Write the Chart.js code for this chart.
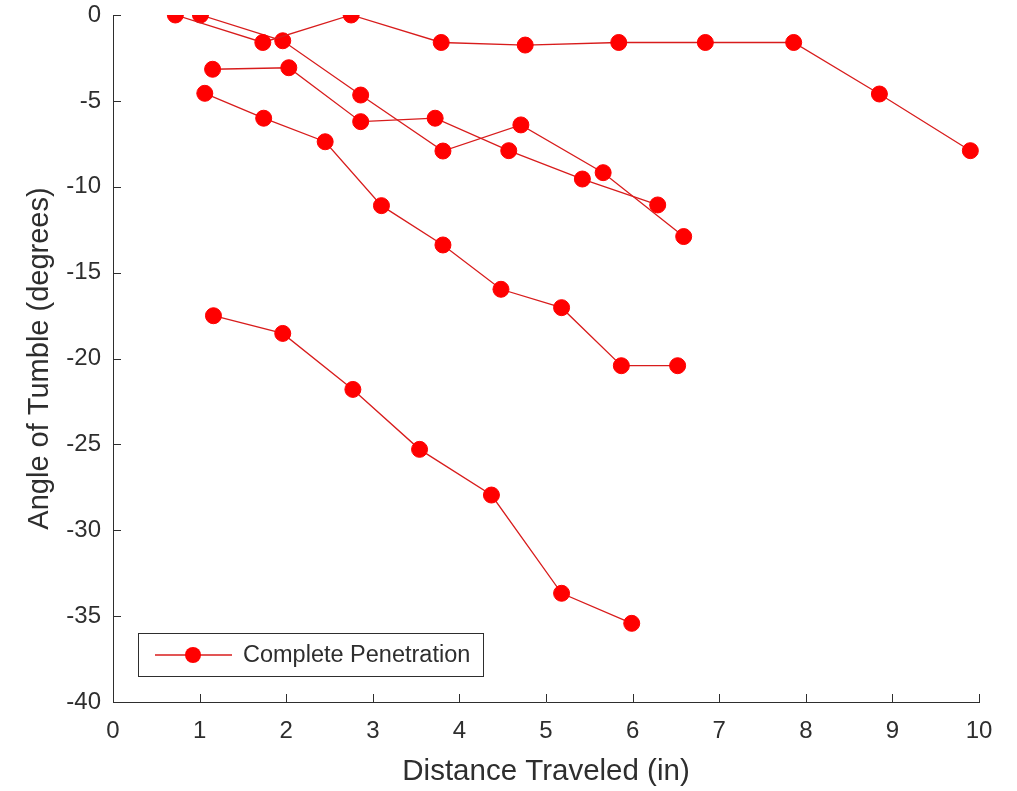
<!DOCTYPE html>
<html><head><meta charset="utf-8">
<script src="https://cdn.jsdelivr.net/npm/chart.js@4.4.1/dist/chart.umd.min.js"></script>
<style>html,body{margin:0;padding:0;background:#fff;}canvas{display:block;}</style>
</head><body>
<canvas id="c" width="1017" height="791"></canvas>
<script>
const xTickValues = [0,1,2,3,4,5,6,7,8,9,10];
const yTickValues = [0,-5,-10,-15,-20,-25,-30,-35,-40];
const legendLabel = 'Complete Penetration';
const xTitle = 'Distance Traveled (in)';
const yTitle = 'Angle of Tumble (degrees)';

const run1X = [0.72,1.73,2.75,3.79,4.76,5.84,6.84,7.86,8.85,9.90];
const run1Y = [0,-1.6,0,-1.6,-1.75,-1.6,-1.6,-1.6,-4.6,-7.9];
const run2X = [1.01,1.96,2.86,3.81,4.71,5.66,6.59];
const run2Y = [0,-1.5,-4.66,-7.92,-6.4,-9.18,-12.9];
const run3X = [1.15,2.03,2.86,3.72,4.57,5.42,6.29];
const run3Y = [-3.16,-3.07,-6.21,-6.01,-7.9,-9.55,-11.06];
const run4X = [1.06,1.74,2.45,3.10,3.81,4.48,5.18,5.87,6.52];
const run4Y = [-4.56,-6.01,-7.38,-11.1,-13.39,-15.97,-17.04,-20.42,-20.42];
const run5X = [1.16,1.96,2.77,3.54,4.37,5.18,5.99];
const run5Y = [-17.51,-18.54,-21.8,-25.29,-27.95,-33.67,-35.42];

const runsX = [run1X, run2X, run3X, run4X, run5X];
const runsY = [run1Y, run2Y, run3Y, run4Y, run5Y];

const TXT = '#2e2e2e';
const FONT = "'Liberation Sans', Arial, sans-serif";

const datasets = runsX.map((xs, i) => ({
  label: legendLabel,
  data: xs.map((x, j) => ({x: x, y: runsY[i][j]})),
  showLine: true,
  borderColor: '#d81c1c',
  borderWidth: 1.3,
  pointBackgroundColor: '#ff0000',
  pointBorderColor: '#ff0000',
  pointBorderWidth: 1,
  pointRadius: 8,
  fill: false,
  tension: 0
}));

const inwardTicks = {
  id: 'inwardTicks',
  afterDraw(chart) {
    const ctx = chart.ctx, xs = chart.scales.x, ys = chart.scales.y;
    const a = chart.chartArea;
    ctx.save();
    ctx.strokeStyle = TXT; ctx.lineWidth = 1;
    ctx.beginPath();
    xTickValues.forEach(v => {
      const p = Math.round(xs.getPixelForValue(v)) + 0.5;
      ctx.moveTo(p, a.bottom); ctx.lineTo(p, a.bottom - 8);
    });
    yTickValues.forEach(v => {
      const p = Math.round(ys.getPixelForValue(v)) + 0.5;
      ctx.moveTo(a.left, p); ctx.lineTo(a.left + 8, p);
    });
    ctx.stroke();
    ctx.restore();
  }
};

const legendBox = {
  id: 'legendBox',
  afterDraw(chart) {
    const ctx = chart.ctx;
    const ds = chart.data.datasets[0];
    const bx = 138.5, by = 633.5, bw = 345, bh = 43;
    ctx.save();
    ctx.fillStyle = '#fff';
    ctx.fillRect(bx, by, bw, bh);
    ctx.strokeStyle = TXT; ctx.lineWidth = 1;
    ctx.strokeRect(bx, by, bw, bh);
    const cy = by + bh / 2;
    ctx.strokeStyle = ds.borderColor; ctx.lineWidth = ds.borderWidth;
    ctx.beginPath(); ctx.moveTo(155, cy); ctx.lineTo(232, cy); ctx.stroke();
    ctx.fillStyle = ds.pointBackgroundColor;
    ctx.beginPath(); ctx.arc(193, cy, ds.pointRadius, 0, Math.PI * 2); ctx.fill();
    ctx.fillStyle = TXT;
    ctx.font = '23.5px ' + FONT;
    ctx.textBaseline = 'middle'; ctx.textAlign = 'left';
    ctx.fillText(ds.label, 243, cy + 1);
    ctx.restore();
  }
};

new Chart(document.getElementById('c'), {
  type: 'scatter',
  data: { datasets: datasets },
  options: {
    responsive: false,
    devicePixelRatio: 1,
    animation: false,
    events: [],
    layout: { padding: { left: 0, top: 15, right: 38, bottom: 0 } },
    plugins: { legend: { display: false }, tooltip: { enabled: false } },
    scales: {
      x: {
        type: 'linear', position: 'bottom', min: 0, max: 10,
        afterBuildTicks: s => { s.ticks = xTickValues.map(v => ({value: v})); },
        afterFit: s => { s.height = 89; s.paddingLeft = 0; s.paddingRight = 0; },
        grid: { display: false, drawTicks: false },
        border: { display: true, color: TXT, width: 1 },
        ticks: { color: TXT, font: { family: FONT, size: 24 }, padding: 15, maxRotation: 0, autoSkip: false },
        title: { display: true, text: xTitle, color: TXT, font: { family: FONT, size: 29.5, lineHeight: 1 }, padding: { top: 0, bottom: 4 } }
      },
      y: {
        type: 'linear', position: 'left', min: -40, max: 0,
        afterBuildTicks: s => { s.ticks = yTickValues.map(v => ({value: v})); },
        afterFit: s => { s.width = 113; s.paddingTop = 0; s.paddingBottom = 0; },
        grid: { display: false, drawTicks: false },
        border: { display: true, color: TXT, width: 1 },
        ticks: { color: TXT, font: { family: FONT, size: 24 }, padding: 12, autoSkip: false },
        title: { display: true, text: yTitle, color: TXT, font: { family: FONT, size: 29, lineHeight: 1 }, padding: { top: 25, bottom: 0 } }
      }
    }
  },
  plugins: [inwardTicks, legendBox]
});
</script>
</body></html>
